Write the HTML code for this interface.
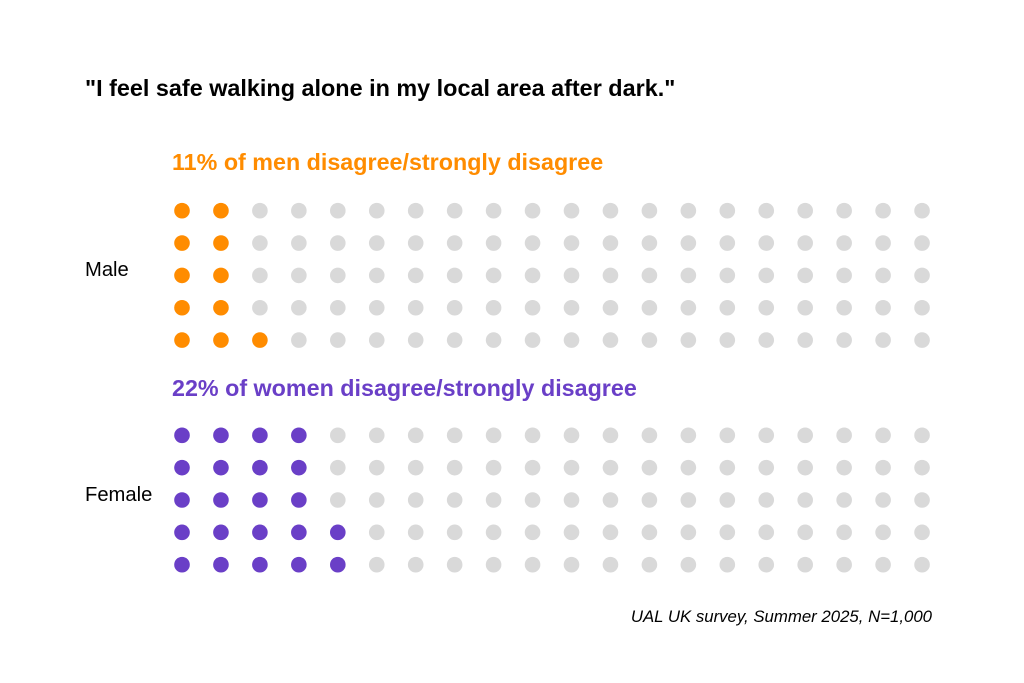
<!DOCTYPE html>
<html><head><meta charset="utf-8"><style>
html,body{margin:0;padding:0;background:#fff;}
svg{display:block;font-family:"Liberation Sans",Arial,sans-serif;}
</style></head><body>
<svg id="s" width="1024" height="683" viewBox="0 0 1024 683" xmlns="http://www.w3.org/2000/svg">
<text x="85" y="96" font-size="23.4" font-weight="bold" fill="#000">"I feel safe walking alone in my local area after dark."</text>
<text x="172" y="170" font-size="23.3" font-weight="bold" fill="#FF8C00">11% of men disagree/strongly disagree</text>
<text x="172" y="396" font-size="23.3" font-weight="bold" fill="#6A3FC7">22% of women disagree/strongly disagree</text>
<text x="85" y="276" font-size="20.2" fill="#000">Male</text>
<text x="85" y="501" font-size="20.2" fill="#000">Female</text>
<text x="932" y="622" font-size="16.8" font-style="italic" fill="#000" text-anchor="end">UAL UK survey, Summer 2025, N=1,000</text>
<g id="g"></g>
</svg>
<script>
var g=document.getElementById('g'),ns='http://www.w3.org/2000/svg';
function grid(y0,n,col){
 for(var c=0;c<20;c++)for(var r=0;r<5;r++){
  var idx=c*5+(4-r);
  var e=document.createElementNS(ns,'circle');
  e.setAttribute('cx',182+c*38.95);
  e.setAttribute('cy',y0+r*32.35);
  e.setAttribute('r',7.8);
  e.setAttribute('fill',idx<n?col:'#D9D9D9');
  g.appendChild(e);
 }
}
grid(210.7,11,'#FF8C00');
grid(435.3,22,'#6A3FC7');
</script>
</body></html>
